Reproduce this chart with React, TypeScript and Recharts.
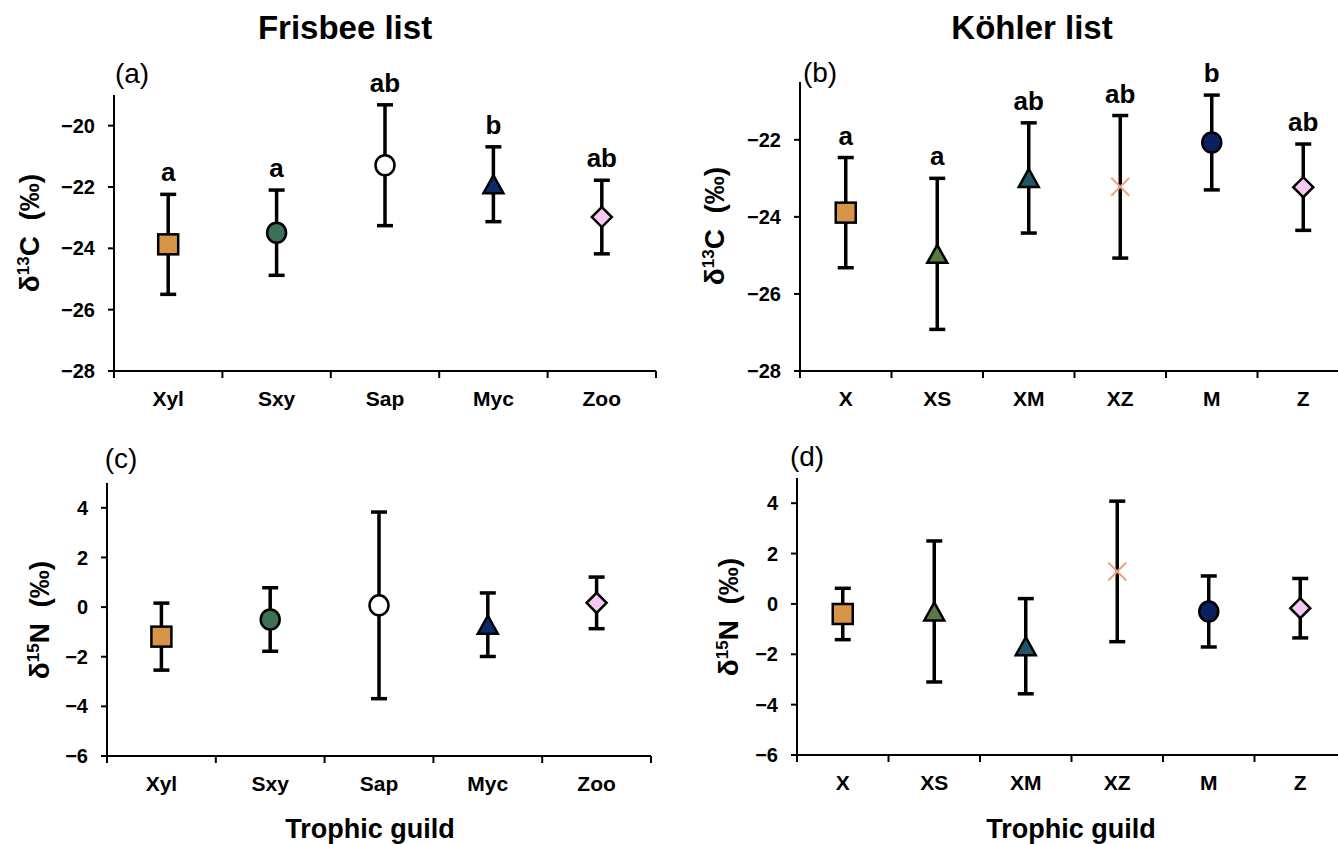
import React from 'react';
import { ComposedChart, Scatter, XAxis, YAxis, ErrorBar } from 'recharts';

const FONT = '"Liberation Sans", Arial, sans-serif';

// Frisbee list
const frisbeeGuilds = ['Xyl', 'Sxy', 'Sap', 'Myc', 'Zoo'];
const frisbeeMarkers = ['square', 'circle', 'circle', 'triangle', 'diamond'];
const frisbeeColors = ['#D69446', '#3E7058', '#FFFFFF', '#0E2A6A', '#F6C8F2'];
const frisbeeC13Mean = [-23.87, -23.49, -21.29, -21.91, -22.98];
const frisbeeC13Sd = [1.63, 1.39, 1.97, 1.22, 1.2];
const frisbeeC13Letters = ['a', 'a', 'ab', 'b', 'ab'];
const frisbeeN15Mean = [-1.19, -0.5, 0.07, -0.71, 0.17];
const frisbeeN15Sd = [1.35, 1.28, 3.76, 1.28, 1.04];

// Köhler list
const kohlerGuilds = ['X', 'XS', 'XM', 'XZ', 'M', 'Z'];
const kohlerMarkers = ['square', 'triangle', 'triangle', 'cross', 'circle', 'diamond'];
const kohlerColors = ['#D69446', '#5A7A45', '#1E5868', '#F4A27E', '#0A2060', '#F6C8F2'];
const kohlerC13Mean = [-23.89, -24.96, -22.99, -23.22, -22.07, -23.23];
const kohlerC13Sd = [1.43, 1.96, 1.43, 1.85, 1.23, 1.12];
const kohlerC13Letters = ['a', 'a', 'ab', 'ab', 'b', 'ab'];
const kohlerN15Mean = [-0.4, -0.3, -1.68, 1.29, -0.3, -0.17];
const kohlerN15Sd = [1.02, 2.8, 1.89, 2.79, 1.41, 1.18];

const c13TicksFrisbee = [-28, -26, -24, -22, -20];
const c13TicksKohler = [-28, -26, -24, -22];
const n15Ticks = [-6, -4, -2, 0, 2, 4];

function buildRows(names: string[], markers: string[], colors: string[], mean: number[], sd: number[], letters?: string[]) {
  return names.map((name, i) => ({
    name,
    marker: markers[i],
    color: colors[i],
    mean: mean[i],
    sd: sd[i],
    top: mean[i] + sd[i],
    letter: letters ? letters[i] : '',
  }));
}

function Marker(props: any) {
  const { cx, cy, payload } = props;
  if (cx == null || cy == null) return null;
  const fill = payload.color;
  const sw = 2.5;
  switch (payload.marker) {
    case 'square':
      return <rect x={cx - 10} y={cy - 10} width={20} height={20} fill={fill} stroke="#000" strokeWidth={sw} />;
    case 'circle':
      return <ellipse cx={cx} cy={cy} rx={9.5} ry={10} fill={fill} stroke="#000" strokeWidth={sw} />;
    case 'triangle':
      return <polygon points={`${cx},${cy - 9} ${cx + 10},${cy + 9} ${cx - 10},${cy + 9}`} fill={fill} stroke="#000" strokeWidth={sw} />;
    case 'diamond':
      return <polygon points={`${cx},${cy - 10} ${cx + 10},${cy} ${cx},${cy + 10} ${cx - 10},${cy}`} fill={fill} stroke="#000" strokeWidth={sw} />;
    case 'cross':
      return (
        <g stroke={fill} strokeWidth={2}>
          <line x1={cx - 9} y1={cy - 9} x2={cx + 9} y2={cy + 9} />
          <line x1={cx - 9} y1={cy + 9} x2={cx + 9} y2={cy - 9} />
        </g>
      );
    default:
      return null;
  }
}

function Letter(props: any) {
  const { cx, cy, payload } = props;
  if (cx == null || cy == null || !payload.letter) return null;
  return (
    <text x={cx} y={cy - 13} textAnchor="middle" fontFamily={FONT} fontWeight="bold" fontSize={26} fill="#000">
      {payload.letter}
    </text>
  );
}

const fmtMinus = (v: number) => String(v).replace('-', '\u2212');

type PanelProps = {
  left: number;
  top: number;
  width: number;
  height: number;
  plotLeft: number;
  plotTop: number;
  plotWidth: number;
  plotHeight: number;
  rows: any[];
  domain: [number, number];
  ticks: number[];
};

function Panel({ left, top, width, height, plotLeft, plotTop, plotWidth, plotHeight, rows, domain, ticks }: PanelProps) {
  const axisW = plotLeft - left;
  const xAxisH = 40;
  const margin = {
    top: plotTop - top,
    left: 0,
    right: width - axisW - plotWidth,
    bottom: height - (plotTop - top) - plotHeight - xAxisH,
  };
  const bw = plotWidth / rows.length;
  const count = rows.length;

  const GuildTick = (p: any) => {
    const { x, y, payload, index } = p;
    return (
      <g>
        <line x1={x - bw / 2} y1={y} x2={x - bw / 2} y2={y + 7} stroke="#000" strokeWidth={2} />
        {index === count - 1 && <line x1={x + bw / 2} y1={y} x2={x + bw / 2} y2={y + 7} stroke="#000" strokeWidth={2} />}
        <text x={x} y={y + 35} textAnchor="middle" fontFamily={FONT} fontWeight="bold" fontSize={21} fill="#000">
          {payload.value}
        </text>
      </g>
    );
  };

  return (
    <div style={{ position: 'absolute', left, top, width, height }}>
      <ComposedChart width={width} height={height} data={rows} margin={margin}>
        <XAxis
          dataKey="name"
          type="category"
          scale="band"
          height={xAxisH}
          axisLine={{ stroke: '#000', strokeWidth: 2 }}
          tickLine={false}
          tickSize={0}
          tickMargin={0}
          interval={0}
          tick={<GuildTick />}
        />
        <YAxis
          type="number"
          width={axisW}
          domain={domain}
          ticks={ticks}
          axisLine={{ stroke: '#000', strokeWidth: 2 }}
          tickLine={{ stroke: '#000', strokeWidth: 2 }}
          tickSize={6}
          tickMargin={13}
          tickFormatter={fmtMinus}
          tick={{ fill: '#000', fontSize: 20, fontWeight: 'bold', fontFamily: FONT }}
        />
        <Scatter dataKey="mean" shape={<Marker />} isAnimationActive={false}>
          <ErrorBar dataKey="sd" direction="y" width={8} stroke="#000" strokeWidth={3.5} />
        </Scatter>
        <Scatter dataKey="top" shape={<Letter />} isAnimationActive={false} />
      </ComposedChart>
    </div>
  );
}

const abs = (x: number, y: number, extra: React.CSSProperties = {}): React.CSSProperties => ({
  position: 'absolute',
  left: x,
  top: y,
  transform: 'translate(-50%, -50%)',
  whiteSpace: 'nowrap',
  fontFamily: FONT,
  color: '#000',
  lineHeight: 1,
  ...extra,
});

function YTitle({ x, y, iso, el }: { x: number; y: number; iso: string; el: string }) {
  return (
    <div style={abs(x, y, { transform: 'translate(-50%, -50%) rotate(-90deg)', fontWeight: 'bold', fontSize: 28 })}>
      δ<sup style={{ fontSize: 17, verticalAlign: 'top', position: 'relative', top: -1 }}>{iso}</sup>
      {el}{'\u00a0\u00a0'}(‰)
    </div>
  );
}

export default function App() {
  const fC = buildRows(frisbeeGuilds, frisbeeMarkers, frisbeeColors, frisbeeC13Mean, frisbeeC13Sd, frisbeeC13Letters);
  const fN = buildRows(frisbeeGuilds, frisbeeMarkers, frisbeeColors, frisbeeN15Mean, frisbeeN15Sd);
  const kC = buildRows(kohlerGuilds, kohlerMarkers, kohlerColors, kohlerC13Mean, kohlerC13Sd, kohlerC13Letters);
  const kN = buildRows(kohlerGuilds, kohlerMarkers, kohlerColors, kohlerN15Mean, kohlerN15Sd);

  return (
    <div style={{ position: 'absolute', left: 0, top: 0, width: 1338, height: 844, overflow: 'hidden', background: '#fff' }}>
      <div style={abs(345, 27, { fontWeight: 'bold', fontSize: 33 })}>Frisbee list</div>
      <div style={abs(1032, 27, { fontWeight: 'bold', fontSize: 33 })}>Köhler list</div>

      <Panel left={0} top={40} width={660} height={400} plotLeft={114} plotTop={95} plotWidth={542} plotHeight={276} rows={fC} domain={[-28, -19]} ticks={c13TicksFrisbee} />
      <Panel left={690} top={40} width={660} height={400} plotLeft={800} plotTop={82} plotWidth={549} plotHeight={289} rows={kC} domain={[-28, -20.5]} ticks={c13TicksKohler} />
      <Panel left={0} top={430} width={660} height={390} plotLeft={107} plotTop={483} plotWidth={544} plotHeight={273} rows={fN} domain={[-6, 5]} ticks={n15Ticks} />
      <Panel left={690} top={430} width={660} height={390} plotLeft={797} plotTop={478} plotWidth={549} plotHeight={277} rows={kN} domain={[-6, 5]} ticks={n15Ticks} />

      <div style={abs(132, 74, { fontSize: 28 })}>(a)</div>
      <div style={abs(820, 73, { fontSize: 28 })}>(b)</div>
      <div style={abs(121, 459, { fontSize: 28 })}>(c)</div>
      <div style={abs(807, 457, { fontSize: 28 })}>(d)</div>

      <YTitle x={30} y={233} iso="13" el="C" />
      <YTitle x={715} y={226} iso="13" el="C" />
      <YTitle x={40} y={620} iso="15" el="N" />
      <YTitle x={729} y={617} iso="15" el="N" />

      <div style={abs(370, 829, { fontWeight: 'bold', fontSize: 27 })}>Trophic guild</div>
      <div style={abs(1071, 829, { fontWeight: 'bold', fontSize: 27 })}>Trophic guild</div>
    </div>
  );
}
